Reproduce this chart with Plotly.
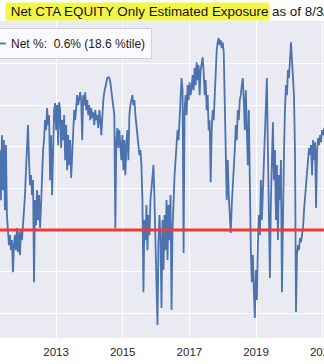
import pandas as pd
import plotly.graph_objects as go

# Net CTA equity exposure (units: gridline spacing = 10), roughly one reading every 11 days
start_date = "2011-04-26"
step = "11D"
net_values = [
    19.2, 7.2, 22.8, 9.6, 21.6, 4.8, 20.4, 3.6,
    0.0, -3.6, -1.2,
    -4.8, -2.4, -10.1, -3.6, -1.2,
    -4.8, 0.5, -5.3, -0.5, -6.0, 0.0, -2.4, 1.2,
    3.6, 8.4, 14.4, 19.2, 25.2,
    16.8, 10.8, 13.2, 8.4, 12.0,
    -12.5,
    7.2, 1.2, 9.6, 2.4, 8.4, 0.5, 6.0,
    13.2, 19.2, 21.6, 26.4, 24.0, 29.3, 25.2, 27.6,
    12.0, 22.8, 8.4, 24.0,
    28.8, 30.5, 24.0, 30.0, 20.4, 30.7, 28.8, 19.7, 26.4, 21.6,
    27.6, 16.8, 25.2, 14.4, 22.8, 15.6, 21.6, 12.5,
    19.2, 24.0, 28.8, 26.4, 31.2, 32.4, 30.0, 31.7, 33.1,
    31.2, 21.6, 32.4, 30.0, 33.1, 28.8, 31.2,
    27.6, 30.0, 26.4, 29.3, 26.9, 28.3, 25.2, 28.8, 26.4, 27.6, 24.5, 28.8, 26.9, 22.8,
    28.8, 31.2, 33.1, 34.6, 35.8, 36.5, 36.7,
    36.5, 35.5, 33.6, 31.2, 29.3, 27.6,
    0.5,
    21.6, 24.5, 19.7, 24.0, 21.1,
    16.8, 22.8, 14.4, 21.6, 13.2, 20.4, 24.0, 16.8, 27.6, 30.0, 31.2, 32.4, 30.0, 31.2,
    27.6, 25.2, 22.8, 20.4, 18.0, 19.2, 15.6,
    7.2, -14.9,
    2.4, -2.4, 6.0, -4.8, 3.6, -1.2, 7.2, 10.8,
    13.2, 15.6,
    7.2, -3.6, -12.0, -22.8,
    -2.4, 3.6,
    -2.4, -18.7, 2.4, -9.6, 3.6, -4.8,
    7.2, -7.2, 6.0, -2.4, 8.4, -19.2,
    0.0, 9.6, 13.2, 16.8, 20.4, 24.0, 21.6, 27.6, 31.2, 36.5,
    33.6, -5.5, 28.8,
    32.4, 27.6, 34.8, 31.2, 35.5, 32.4, 34.1,
    37.2, 33.6, 38.9, 34.8, 40.3, 36.0, 39.6, 32.4, 38.4, 40.8, 41.5, 37.9,
    32.4, 36.0, 28.8, 32.4, 24.0, 26.4, 11.5,
    24.0, 28.8, 26.4, 32.4, 36.0,
    43.2, 45.1, 46.1, 44.4, 45.6, 43.7, 45.1, 42.7,
    33.6, 19.2, 7.2, 16.8,
    8.4, 3.6, -0.7, 6.0, 9.6,
    13.2, 19.2, 25.2, 21.6, 28.8, 26.4, 31.2, 32.4, 34.8, 36.5,
    31.2, 24.0, 33.6, 26.4, 15.6, 28.8,
    4.8, -4.8, -12.5,
    -6.0, -14.4, -21.1, -9.6, -16.8,
    -3.6, 3.6, -1.2, 12.0, 2.4, 9.6, 13.2,
    21.6, 28.8, 36.5,
    19.2, 4.8, -11.5,
    7.2, 19.2, 25.9,
    12.0, 19.2, 2.4, 15.6, -2.4, 13.2, 7.2, 16.8,
    -14.9,
    7.2, 18.0, 28.8, 34.8,
    32.4, 38.4, 36.5, 42.0, 45.1,
    40.8, 36.0, 32.4, 19.2,
    -19.7,
    -6.0, -3.6, -4.8, -1.9, -2.9, -0.5, 0.5,
    4.8, 7.7, 10.8, 14.4, 16.8, 19.7, 18.0,
    20.4, 13.2, 21.6, 16.8, 21.1, 5.3, 19.2, 22.1, 20.4,
    22.8, 21.1, 24.0, 22.8, 24.5, 24.0,
]
reference_level = 0.0
legend_label = "Net %:  0.6% (18.6 %tile)"
title_highlight = "Net CTA EQUITY Only Estimated Exposure"
title_rest = "as of 8/3/2021"
x_range = ["2011-04-27", "2021-01-15"]
y_range = [-25.9, 50.2]

dates = pd.date_range(start=start_date, periods=len(net_values), freq=step)

fig = go.Figure()
fig.add_trace(go.Scatter(
    x=dates, y=net_values, mode="lines", name=legend_label,
    line=dict(color="#4C72B0", width=1.8),
))

fig.add_shape(type="line", xref="paper", x0=0, x1=1, yref="y",
              y0=reference_level, y1=reference_level,
              line=dict(color="rgb(242,56,56)", width=3), layer="above")

W, H = 324, 364
title_font = dict(family="Liberation Sans, Arial", size=13.4, color="#141414")
fig.add_annotation(text="&nbsp;" + title_highlight, xref="paper", yref="paper",
                   x=5 / W, y=1, xanchor="left", yanchor="bottom", yshift=0,
                   showarrow=False, bgcolor="#F2F54A", borderpad=1,
                   font=title_font)
fig.add_annotation(text=title_rest, xref="paper", yref="paper",
                   x=270 / W, y=1, xanchor="left", yanchor="bottom",
                   showarrow=False, borderpad=1,
                   font=title_font)

fig.update_layout(
    width=W, height=H,
    margin=dict(l=0, r=0, t=21, b=26, autoexpand=False),
    paper_bgcolor="white",
    plot_bgcolor="#EAEAF2",
    font=dict(family="Liberation Sans, Arial", color="#262626"),
    showlegend=True,
    legend=dict(x=-30 / W, y=(338 - 28) / 317, xanchor="left", yanchor="top",
                bgcolor="rgba(252,252,253,0.9)", bordercolor="#CFCFD6", borderwidth=1,
                font=dict(size=12, color="#1a1a1a")),
    xaxis=dict(range=x_range, type="date", tick0="2013-01-01", dtick="M24",
               tickformat="%Y", showgrid=True, gridcolor="white", gridwidth=1.2,
               zeroline=False, showline=False, ticks="", ticklabeloverflow="allow",
               ticklabelstandoff=5,
               tickfont=dict(size=11.5, color="#262626")),
    yaxis=dict(range=y_range, tick0=0, dtick=10, showgrid=True, gridcolor="white",
               gridwidth=1.2, zeroline=False, showticklabels=False, ticks=""),
)

fig.write_html("out.html")
